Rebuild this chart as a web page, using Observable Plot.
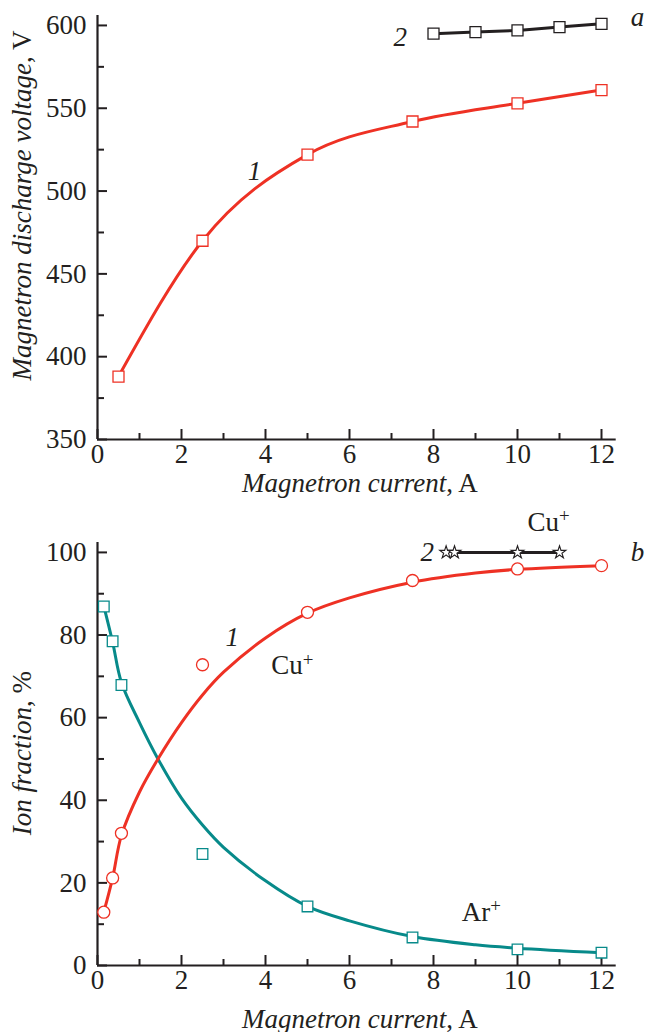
<!DOCTYPE html>
<html><head><meta charset="utf-8">
<script src="https://cdn.jsdelivr.net/npm/d3@7"></script>
<script src="https://cdn.jsdelivr.net/npm/@observablehq/plot@0.6"></script>
<style>
body{margin:0;background:#fff}
#chart svg{display:block}
</style>
</head><body><div id="chart"></div>
<script>
// ---------- panel a ----------
const currentA1 = [0.5, 2.5, 5, 7.5, 10, 12];
const voltageA1 = [388, 470, 522, 542, 553, 561];
const currentA2 = [8, 9, 10, 11, 12];
const voltageA2 = [595, 596, 597, 599, 601];

// ---------- panel b ----------
const currentB = [0.15, 0.36, 0.57, 2.5, 5, 7.5, 10, 12];
const cuFraction = [12.9, 21.2, 32, 72.8, 85.5, 93.2, 96, 96.8];
const arFraction = [86.9, 78.5, 67.9, 27, 14.3, 6.8, 3.9, 3.1];
// fitted curves
const fitCurrent = [0.15, 0.36, 0.57, 1, 1.44, 2, 2.5, 3, 4, 5, 6, 7.5, 9, 10, 12];
const cuFit = [12.9, 21.2, 31.5, 42, 50, 58.8, 65.5, 71, 79.3, 85.3, 89, 92.8, 95, 95.9, 96.8];
const arFit = [87, 78.3, 68.5, 58.8, 50, 40.5, 34, 28.6, 20.5, 14.3, 10.8, 7, 5, 4.2, 3.1];
const starCurrent = [8.3, 8.5, 10, 11];
const starFraction = [100, 100, 100, 100];

// ---------- ticks ----------
const xMajor = [0, 2, 4, 6, 8, 10, 12];
const xMinor = [1, 3, 5, 7, 9, 11];
const yMajorA = [350, 400, 450, 500, 550, 600];
const yMinorA = [375, 425, 475, 525, 575];
const yMajorB = [0, 20, 40, 60, 80, 100];
const yMinorB = [10, 30, 50, 70, 90];

// ---------- annotations ----------
const labelsA = [
  {x: 3.74, y: 512, t: "1", it: true},
  {x: 7.21, y: 592.7, t: "2", it: true},
  {x: 12.86, y: 604.7, t: "a", it: true}
];
const labelsB = [
  {x: 3.21, y: 79.4, t: "1", it: true},
  {x: 4.64, y: 72.6, t: "Cu+", it: false},
  {x: 9.14, y: 12.9, t: "Ar+", it: false},
  {x: 7.85, y: 100, t: "2", it: true},
  {x: 10.74, y: 107.3, t: "Cu+", it: false},
  {x: 12.86, y: 100, t: "b", it: true}
];

const RED = "#ee3124", TEAL = "#078a8a", INK = "#231f20";
const FONT = "'Liberation Serif', 'Times New Roman', serif";
const W = 645, ML = 97, MR = 29.3;
const X_DOMAIN = [0, 12.35];
const FW = W - ML - MR;
const KX = FW / (X_DOMAIN[1] - X_DOMAIN[0]); // px per x unit

const toRows = (xs, ys) => xs.map((x, i) => ({x, y: ys[i]}));

function axes(yMajor, yMinor, yDomain, FH) {
  const ky = FH / (yDomain[1] - yDomain[0]);
  const y0 = yDomain[0];
  const tick = {stroke: INK, strokeWidth: 2};
  return [
    Plot.ruleY(yMajor, {...tick, x1: () => 0, x2: () => 10 / KX}),
    Plot.ruleY(yMinor, {...tick, x1: () => 0, x2: () => 7 / KX}),
    Plot.ruleX(xMajor, {...tick, y1: () => y0, y2: () => y0 + 10 / ky}),
    Plot.ruleX(xMinor, {...tick, y1: () => y0, y2: () => y0 + 6 / ky}),
    Plot.ruleX([0], {stroke: INK, strokeWidth: 2.2}),
    Plot.ruleY([y0], {stroke: INK, strokeWidth: 2.2}),
    Plot.axisY(yMajor, {tickSize: 0, tickPadding: 11, label: null, fontSize: 27, fill: INK}),
    Plot.axisX(xMajor, {tickSize: 0, tickPadding: 4, label: null, fontSize: 27, fill: INK})
  ];
}

function annot(labels) {
  return [
    Plot.text(labels.filter(d => d.it), {x: "x", y: "y", text: "t", fontSize: 27, fontStyle: "italic", fill: INK}),
    Plot.text(labels.filter(d => !d.it), {x: "x", y: "y", text: "t", fontSize: 27, fill: INK})
  ];
}

const yDomA = [350, 606], yDomB = [0, 102.4];

const plotA = Plot.plot({
  width: W, height: 500,
  marginLeft: ML, marginRight: MR, marginTop: 15, marginBottom: 61,
  x: {domain: X_DOMAIN},
  y: {domain: yDomA},
  style: {fontFamily: FONT, fontSize: "27px", color: INK, background: "#fff", overflow: "visible"},
  marks: [
    ...axes(yMajorA, yMinorA, yDomA, 500 - 15 - 61),
    Plot.line(toRows(currentA1, voltageA1), {x: "x", y: "y", stroke: RED, strokeWidth: 3, curve: "monotone-x"}),
    Plot.line(toRows(currentA2, voltageA2), {x: "x", y: "y", stroke: INK, strokeWidth: 3}),
    Plot.dot(toRows(currentA1, voltageA1), {x: "x", y: "y", symbol: "square", r: 6.2, stroke: RED, strokeWidth: 1.3, fill: "#fff"}),
    Plot.dot(toRows(currentA2, voltageA2), {x: "x", y: "y", symbol: "square", r: 6.2, stroke: INK, strokeWidth: 1.3, fill: "#fff"}),
    ...annot(labelsA),
    Plot.text(["Magnetron current, A"], {text: d => d, frameAnchor: "bottom", lineAnchor: "bottom", textAnchor: "middle", dy: 52, dx: 3, fontSize: 27, fill: INK}),
    Plot.text(["Magnetron discharge voltage, V"], {text: d => d, frameAnchor: "left", textAnchor: "middle", lineAnchor: "middle", rotate: -90, dx: -75, dy: -22, fontSize: 27, fill: INK})
  ]
});

const plotB = Plot.plot({
  width: W, height: 532,
  marginLeft: ML, marginRight: MR, marginTop: 42, marginBottom: 67,
  x: {domain: X_DOMAIN},
  y: {domain: yDomB},
  style: {fontFamily: FONT, fontSize: "27px", color: INK, background: "#fff", overflow: "visible"},
  marks: [
    ...axes(yMajorB, yMinorB, yDomB, 532 - 42 - 67),
    Plot.line(toRows(fitCurrent, arFit), {x: "x", y: "y", stroke: TEAL, strokeWidth: 3, curve: "catmull-rom"}),
    Plot.line(toRows(fitCurrent, cuFit), {x: "x", y: "y", stroke: RED, strokeWidth: 3, curve: "catmull-rom"}),
    Plot.line(toRows(starCurrent.slice(1), starFraction.slice(1)), {x: "x", y: "y", stroke: INK, strokeWidth: 3}),
    Plot.dot(toRows(currentB, arFraction), {x: "x", y: "y", symbol: "square", r: 6, stroke: TEAL, strokeWidth: 1.3, fill: "#fff"}),
    Plot.dot(toRows(currentB, cuFraction), {x: "x", y: "y", symbol: "circle", r: 6, stroke: RED, strokeWidth: 1.3, fill: "#fff"}),
    Plot.dot(toRows(starCurrent, starFraction), {x: "x", y: "y", symbol: "star", r: 4, stroke: INK, strokeWidth: 1.1, fill: "#fff"}),
    ...annot(labelsB),
    Plot.text(["Magnetron current, A"], {text: d => d, frameAnchor: "bottom", lineAnchor: "bottom", textAnchor: "middle", dy: 62, dx: 3, fontSize: 27, fill: INK}),
    Plot.text(["Ion fraction, %"], {text: d => d, frameAnchor: "left", textAnchor: "middle", lineAnchor: "middle", rotate: -90, dx: -75, dy: -1, fontSize: 27, fill: INK})
  ]
});

const rich = {
  "Magnetron current, A": '<tspan font-style="italic">Magnetron current</tspan>, A',
  "Magnetron discharge voltage, V": '<tspan font-style="italic">Magnetron discharge voltage</tspan>, V',
  "Ion fraction, %": '<tspan font-style="italic">Ion fraction</tspan>, %',
  "Cu+": 'Cu<tspan dy="-0.45em" font-size="0.7em">+</tspan>',
  "Ar+": 'Ar<tspan dy="-0.45em" font-size="0.7em">+</tspan>'
};
for (const svg of [plotA, plotB]) {
  svg.querySelectorAll("text").forEach(t => {
    const s = t.textContent;
    if (Object.prototype.hasOwnProperty.call(rich, s)) t.innerHTML = rich[s];
  });
}
const root = document.getElementById("chart");
root.appendChild(plotA);
root.appendChild(plotB);
</script>
</body></html>
